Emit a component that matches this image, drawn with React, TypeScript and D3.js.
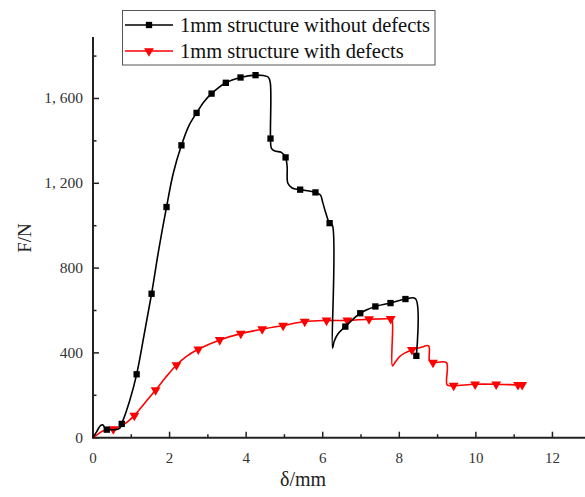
import { useEffect, useRef } from "react";
import * as d3 from "d3";

// displacement (mm), force (N)
const intactCurve: [number, number][] = [
  [0, 0], [0.1, 30], [0.2, 58], [0.26, 60], [0.33, 42], [0.45, 38], [0.6, 38], [0.7, 45],
  [0.75, 65], [0.95, 170], [1.14, 299], [1.33, 480], [1.53, 679], [1.72, 890], [1.92, 1088],
  [2.1, 1250], [2.31, 1379], [2.5, 1470], [2.705, 1532], [2.9, 1585], [3.097, 1623], [3.47, 1674],
  [3.853, 1699], [4.245, 1710], [4.45, 1708], [4.58, 1700], [4.63, 1675], [4.636, 1411],
  [4.66, 1365], [4.75, 1352], [4.92, 1346], [5.03, 1322], [5.07, 1280], [5.09, 1200],
  [5.2, 1178], [5.41, 1170], [5.81, 1157], [5.94, 1145], [6.0, 1110], [6.08, 1060],
  [6.18, 1012], [6.25, 1004], [6.255, 422], [6.3, 455], [6.4, 490], [6.59, 524], [6.98, 587],
  [7.375, 619], [7.77, 635], [8.16, 654], [8.42, 656], [8.445, 386],
];
const intactMarkers: [number, number][] = [
  [0.36, 38], [0.75, 65], [1.14, 299], [1.53, 679], [1.92, 1088], [2.31, 1379], [2.705, 1532],
  [3.097, 1623], [3.47, 1674], [3.853, 1699], [4.245, 1710], [4.636, 1411], [5.03, 1322],
  [5.41, 1170], [5.81, 1157], [6.18, 1012], [6.59, 524], [6.98, 587], [7.375, 619], [7.77, 635],
  [8.16, 654], [8.445, 386],
];

const defectCurve: [number, number][] = [
  [0, 0], [0.13, 17], [0.3, 35], [0.53, 41], [0.75, 57], [0.9, 75], [1.08, 104], [1.35, 163],
  [1.635, 225], [1.9, 285], [2.18, 343], [2.45, 385], [2.75, 417], [3.31, 461], [3.86, 491],
  [4.42, 512], [4.965, 529], [5.53, 548], [6.1, 553], [6.645, 553], [7.21, 559], [7.775, 561],
  [7.81, 560], [7.82, 339], [7.9, 358], [8.01, 383], [8.15, 400], [8.33, 414], [8.55, 425],
  [8.766, 433], [8.79, 364], [8.88, 354], [9.23, 354], [9.25, 249], [9.42, 246], [9.98, 252],
  [10.53, 252], [11.1, 249], [11.21, 249],
];
const defectMarkers: [number, number][] = [
  [0.53, 41], [1.08, 104], [1.635, 225], [2.18, 343], [2.75, 417], [3.31, 461], [3.86, 491],
  [4.42, 512], [4.965, 529], [5.53, 548], [6.1, 553], [6.645, 553], [7.21, 559], [7.775, 561],
  [8.33, 414], [8.88, 354], [9.42, 246], [9.98, 252], [10.53, 252], [11.1, 249], [11.21, 249],
];

const xTicks = [0, 2, 4, 6, 8, 10, 12];
const yTicks = [0, 400, 800, 1200, 1600];
const seriesNames = ["1mm structure without defects", "1mm structure with defects"];
const seriesColors = ["#000000", "#ff0000"];

const FONT = "'Liberation Serif', 'Times New Roman', serif";

function ForceChart() {
  const svgRef = useRef<SVGSVGElement>(null);

  useEffect(() => {
    const width = 585;
    const height = 497;
    const svg = d3.select(svgRef.current);
    svg.selectAll("*").remove();
    svg.attr("width", width).attr("height", height);

    const x = d3.scaleLinear().domain([0, 12.85]).range([93, 585]);
    const y = d3.scaleLinear().domain([0, 1890]).range([437.7, 37]);

    // axes
    const axisColor = "#222";
    svg.append("line").attr("x1", x(0)).attr("x2", x(0)).attr("y1", y(1890)).attr("y2", y(0))
      .attr("stroke", axisColor).attr("stroke-width", 2);
    svg.append("line").attr("x1", x(0) - 1).attr("x2", width).attr("y1", y(0)).attr("y2", y(0))
      .attr("stroke", axisColor).attr("stroke-width", 2);

    // x ticks (inward)
    d3.range(0, 13, 1).forEach((v) => {
      const major = v % 2 === 0;
      svg.append("line").attr("x1", x(v)).attr("x2", x(v))
        .attr("y1", y(0)).attr("y2", y(0) - (major ? 6 : 3.5))
        .attr("stroke", axisColor).attr("stroke-width", 1.5);
    });
    svg.append("g").selectAll("text").data(xTicks).enter().append("text")
      .attr("x", (d) => x(d)).attr("y", 463)
      .attr("text-anchor", "middle").attr("font-family", FONT).attr("font-size", 15)
      .attr("fill", "#333").text((d) => String(d));

    // y ticks (inward)
    d3.range(0, 1890, 200).forEach((v) => {
      const major = v % 400 === 0;
      svg.append("line").attr("x1", x(0)).attr("x2", x(0) + (major ? 6 : 3.5))
        .attr("y1", y(v)).attr("y2", y(v))
        .attr("stroke", axisColor).attr("stroke-width", 1.5);
    });
    svg.append("g").selectAll("text").data(yTicks).enter().append("text")
      .attr("x", 83).attr("y", (d) => y(d) + 5)
      .attr("text-anchor", "end").attr("font-family", FONT).attr("font-size", 15.5)
      .attr("fill", "#333").text((d) => d3.format(",")(d).replace(",", ", "));

    svg.append("text").attr("x", 303).attr("y", 486).attr("text-anchor", "middle")
      .attr("font-family", FONT).attr("font-size", 20).attr("fill", "#222").text("δ/mm");
    svg.append("text").attr("transform", "translate(31,238) rotate(-90)").attr("text-anchor", "middle")
      .attr("font-family", FONT).attr("font-size", 19).attr("fill", "#222").text("F/N");

    const line = d3.line<[number, number]>()
      .x((d) => x(d[0])).y((d) => y(d[1]))
      .curve(d3.curveCatmullRom.alpha(0.5));

    const square = d3.symbol().type(d3.symbolSquare).size(40);
    const tri = d3.symbol().type(d3.symbolTriangle).size(42);

    svg.append("path").datum(defectCurve).attr("d", line).attr("fill", "none")
      .attr("stroke", seriesColors[1]).attr("stroke-width", 1.6);
    svg.append("g").selectAll("path").data(defectMarkers).enter().append("path")
      .attr("d", tri).attr("fill", seriesColors[1])
      .attr("transform", (d) => `translate(${x(d[0])},${y(d[1])}) rotate(180)`);

    svg.append("path").datum(intactCurve).attr("d", line).attr("fill", "none")
      .attr("stroke", seriesColors[0]).attr("stroke-width", 1.6);
    svg.append("g").selectAll("path").data(intactMarkers).enter().append("path")
      .attr("d", square).attr("fill", seriesColors[0])
      .attr("transform", (d) => `translate(${x(d[0])},${y(d[1])})`);

    // legend
    const lg = svg.append("g");
    lg.append("rect").attr("x", 122.5).attr("y", 10.5).attr("width", 312.5).attr("height", 54.5)
      .attr("fill", "white").attr("stroke", "#555").attr("stroke-width", 1);
    seriesNames.forEach((name, i) => {
      const cy = 25 + i * 26;
      lg.append("line").attr("x1", 125).attr("x2", 173).attr("y1", cy).attr("y2", cy)
        .attr("stroke", seriesColors[i]).attr("stroke-width", 1.6);
      lg.append("path").attr("d", i === 0 ? square : tri).attr("fill", seriesColors[i])
        .attr("transform", `translate(149,${cy})${i === 1 ? " rotate(180)" : ""}`);
      lg.append("text").attr("x", 180).attr("y", cy + 6.5)
        .attr("font-family", FONT).attr("font-size", 20.5).attr("fill", "#111").text(name);
    });
  }, []);

  return <svg ref={svgRef} style={{ display: "block" }}></svg>;
}

export default function App() {
  return (
    <div style={{ position: "absolute", left: 0, top: 0 }}>
      <ForceChart />
    </div>
  );
}
